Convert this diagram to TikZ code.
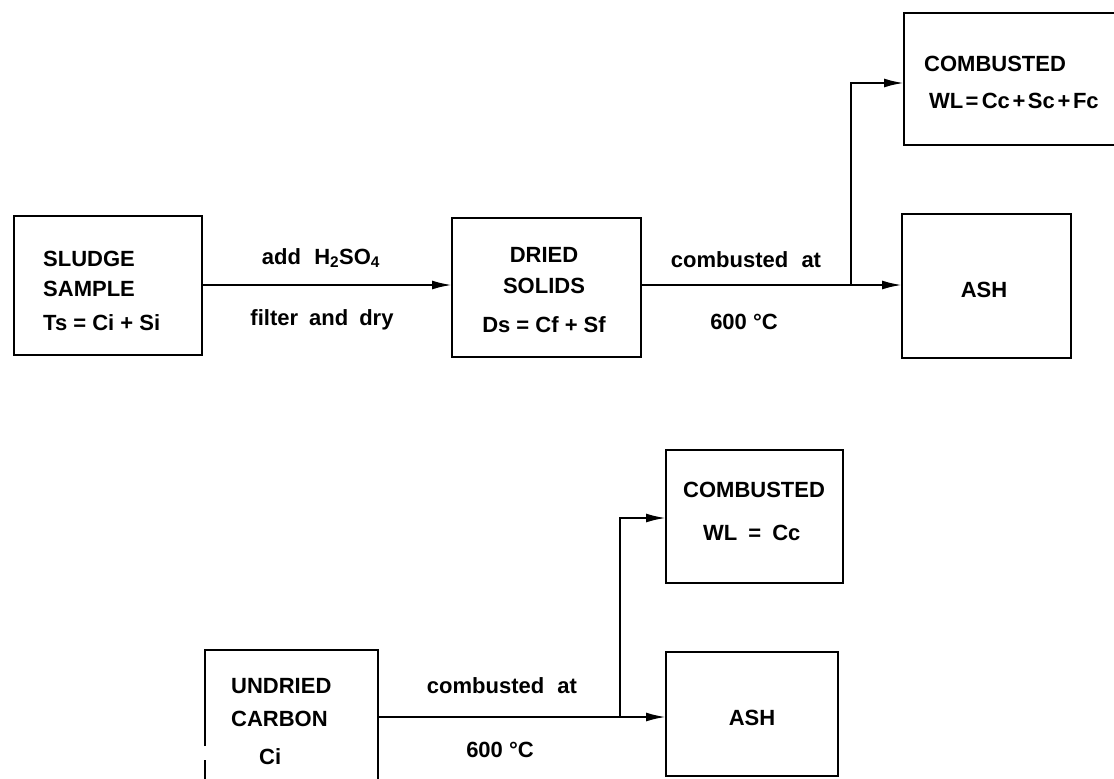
\documentclass[tikz,border=0pt]{standalone}
\usepackage{fontspec}
\setmainfont{Liberation Sans}
\usetikzlibrary{arrows.meta}
\begin{document}
\begin{tikzpicture}[x=1pt,y=-1pt,
  box/.style={draw,line width=2.2pt,rectangle,inner sep=0pt,outer sep=0pt,anchor=north west},
  ghost/.style={rectangle,inner sep=0pt,outer sep=0pt,anchor=north west},
  lbl/.style={font=\fontsize{22}{26}\selectfont\bfseries,inner sep=0pt},
  wire/.style={line width=2.2pt},
  conn/.style={line width=2.2pt,-{Latex[length=20pt,width=9pt]}}]
\useasboundingbox (0,0) rectangle (1114,779);

% ---------- top row ----------
\node[box,minimum width=188pt,minimum height=139pt] (sludge) at (14,216) {};
\node[box,minimum width=189pt,minimum height=139pt] (dried) at (452,218) {};
\node[box,minimum width=169pt,minimum height=144pt] (ash1) at (902,214) {};
\node[box,minimum width=230pt,minimum height=132pt] (comb1) at (904,13) {};

\coordinate (ya) at (0,285);
\coordinate (yb) at (0,83);
\coordinate (j1) at (851,285);

\draw[conn] (sludge.east |- ya) -- (dried.west |- ya);
\draw[conn] (dried.east |- ya) -- (ash1.west |- ya);
\draw[conn] (j1) |- (comb1.west |- yb);

\node[lbl,anchor=west] (t1) at (43,259) {SLUDGE};
\node[lbl,anchor=west] (t2) at (43,289) {SAMPLE};
\node[lbl,anchor=west] (t3) at (43,323) {Ts = Ci + Si};

\node[lbl] (t4) at (321,258) {add\hspace{0.6em}H\textsubscript{2}SO\textsubscript{4}};
\node[lbl] (t5) at (322,320) {filter\hspace{0.5em}and\hspace{0.5em}dry};

\node[lbl] (t6) at (544,255) {DRIED};
\node[lbl] (t7) at (544,286) {SOLIDS};
\node[lbl] (t8) at (544,325) {Ds = Cf + Sf};

\node[lbl] (t9) at (746,260) {combusted\hspace{0.6em}at};
\node[lbl] (t10) at (744,322) {600 °C};

\node[lbl] (t11) at (984,290) {ASH};
\node[lbl,anchor=west] (t12) at (924,64) {COMBUSTED};
\node[lbl,anchor=west] (t13) at (929,101) {WL\hspace{0.1em}=\hspace{0.15em}Cc\hspace{0.12em}+\hspace{0.12em}Sc\hspace{0.12em}+\hspace{0.12em}Fc};

% ---------- bottom row ----------
\node[ghost,minimum width=173pt,minimum height=160pt] (und) at (205,650) {};
\draw[wire] (205,746) -- (und.north west) -- (und.north east) -- (und.south east);
\draw[wire] (205,760) -- (und.south west);

\node[box,minimum width=177pt,minimum height=133pt] (comb2) at (666,450) {};
\node[box,minimum width=172pt,minimum height=124pt] (ash2) at (666,652) {};

\coordinate (yc) at (0,717);
\coordinate (yd) at (0,518);
\coordinate (j2) at (620,717);

\draw[conn] (und.east |- yc) -- (ash2.west |- yc);
\draw[conn] (j2) |- (comb2.west |- yd);

\node[lbl,anchor=west] (u1) at (231,686) {UNDRIED};
\node[lbl,anchor=west] (u2) at (231,719) {CARBON};
\node[lbl,anchor=west] (u3) at (259,757) {Ci};

\node[lbl] (u4) at (502,686) {combusted\hspace{0.6em}at};
\node[lbl] (u5) at (500,750) {600 °C};

\node[lbl,anchor=west] (u6) at (683,490) {COMBUSTED};
\node[lbl,anchor=west] (u7) at (703,533) {WL\hspace{0.5em}=\hspace{0.5em}Cc};
\node[lbl] (u8) at (752,718) {ASH};
\end{tikzpicture}
\end{document}
